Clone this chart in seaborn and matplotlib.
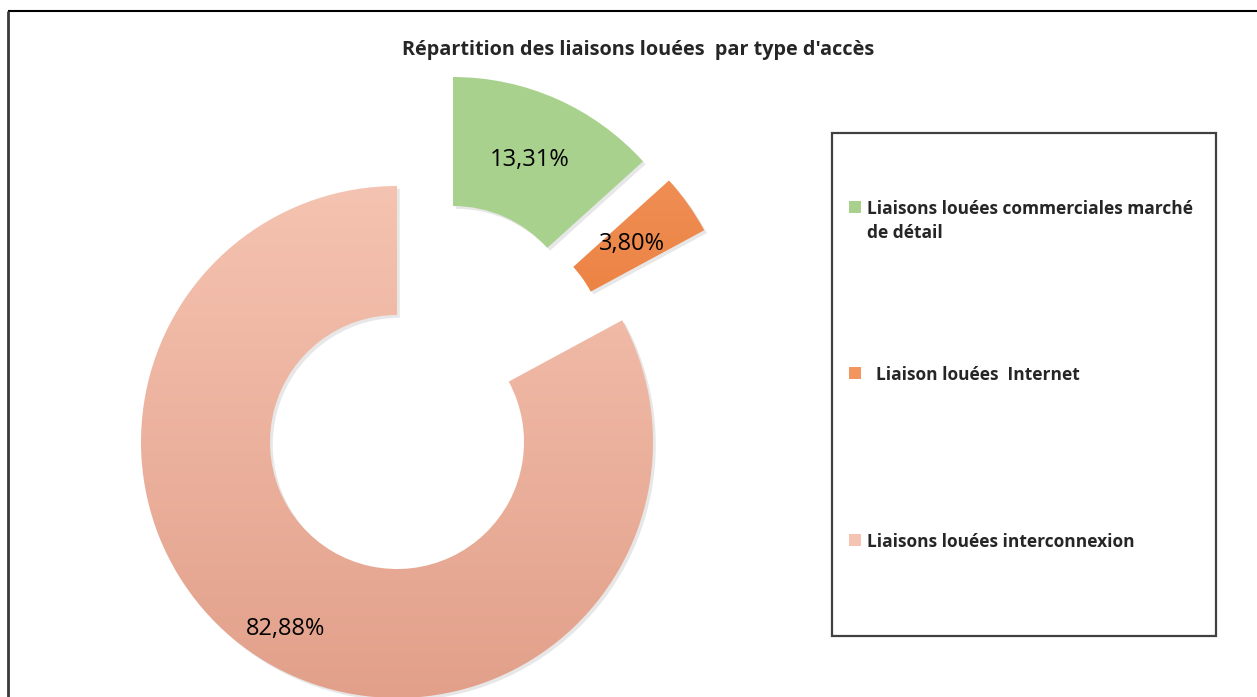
import matplotlib
matplotlib.use("Agg")
import numpy as np
import matplotlib.pyplot as plt
import seaborn as sns
from matplotlib.patches import Rectangle
from matplotlib import patheffects as pe
from matplotlib.colors import LinearSegmentedColormap

# data
categories = [
    "Liaisons louées commerciales marché\nde détail",
    "  Liaison louées  Internet",
    "Liaisons louées interconnexion",
]
shares = [13.31, 3.80, 82.88]
share_labels = ["13,31%", "3,80%", "82,88%"]
title = "Répartition des liaisons louées  par type d'accès"

# layout (pixel units, y up)
W, H = 1257, 697
CENTER = (397, H - 442)
RADIUS = 256
RING = 129
OFFSETS = [(56, 109), (82, 90), (0, 0)]
LABEL_FRAC = [0.74, 0.73, 0.85]
TOP_COLORS = ["#A9D18E", "#F2955F", "#F5C3B1"]
BOTTOM_COLORS = ["#A9D18E", "#E3681A", "#E2A08A"]
MARKER_Y = [207, 373, 540]
TEXT_BASELINE = [238, 380, 547]  # baseline of the last line

sns.set_theme(style="white")
plt.rcParams["font.family"] = ["Open Sans", "DejaVu Sans"]

fig = plt.figure(figsize=(W / 100, H / 100), dpi=100)
ax = fig.add_axes([0, 0, 1, 1])

wedges, _ = ax.pie(
    shares,
    radius=RADIUS,
    center=CENTER,
    startangle=90,
    counterclock=False,
    colors=TOP_COLORS,
    wedgeprops=dict(width=RING, linewidth=0),
)

for w, (dx, dy), top, bot, lab, frac in zip(
    wedges, OFFSETS, TOP_COLORS, BOTTOM_COLORS, share_labels, LABEL_FRAC
):
    cx, cy = CENTER[0] + dx, CENTER[1] + dy
    w.set_center((cx, cy))
    w.set_facecolor("none")
    w.set_path_effects([pe.SimplePatchShadow(offset=(2, -2), shadow_rgbFace="#b0b0b0", alpha=0.3)])
    cmap = LinearSegmentedColormap.from_list("g", [bot, top])
    grad = np.linspace(0, 1, 256).reshape(-1, 1)
    im = ax.imshow(grad, extent=[cx - RADIUS, cx + RADIUS, cy - RADIUS, cy + RADIUS],
                   origin="lower", cmap=cmap, aspect="auto", zorder=2)
    im.set_clip_path(w)
    ang = np.deg2rad((w.theta1 + w.theta2) / 2)
    r = RADIUS * frac
    ax.text(cx + r * np.cos(ang), cy + r * np.sin(ang), lab, ha="center", va="center",
            fontsize=17, color="black", zorder=3)

# title
ax.text(638, H - 55, title, ha="center", va="baseline", fontsize=14.3, fontweight="bold")

# legend box
ax.add_patch(Rectangle((832, H - 636), 384, 503, fill=False, edgecolor="#404040", linewidth=1.6, zorder=3))
for name, top, my, base in zip(categories, TOP_COLORS, MARKER_Y, TEXT_BASELINE):
    ax.add_patch(Rectangle((849, H - my - 6), 12, 12, facecolor=top, edgecolor="none", zorder=3))
    ax.text(867, H - base, name, ha="left", va="baseline", fontsize=12.5, fontweight="bold",
            linespacing=1.45, zorder=3)

# outer border (top and left only are visible)
ax.plot([8, W], [H - 11, H - 11], color="black", linewidth=1.5, solid_capstyle="butt")
ax.plot([8, 8], [H - 11, 0], color="#3a3a3a", linewidth=2, solid_capstyle="butt")

ax.set_xlim(0, W)
ax.set_ylim(0, H)
ax.axis("off")

fig.savefig("out.png", dpi=100)
